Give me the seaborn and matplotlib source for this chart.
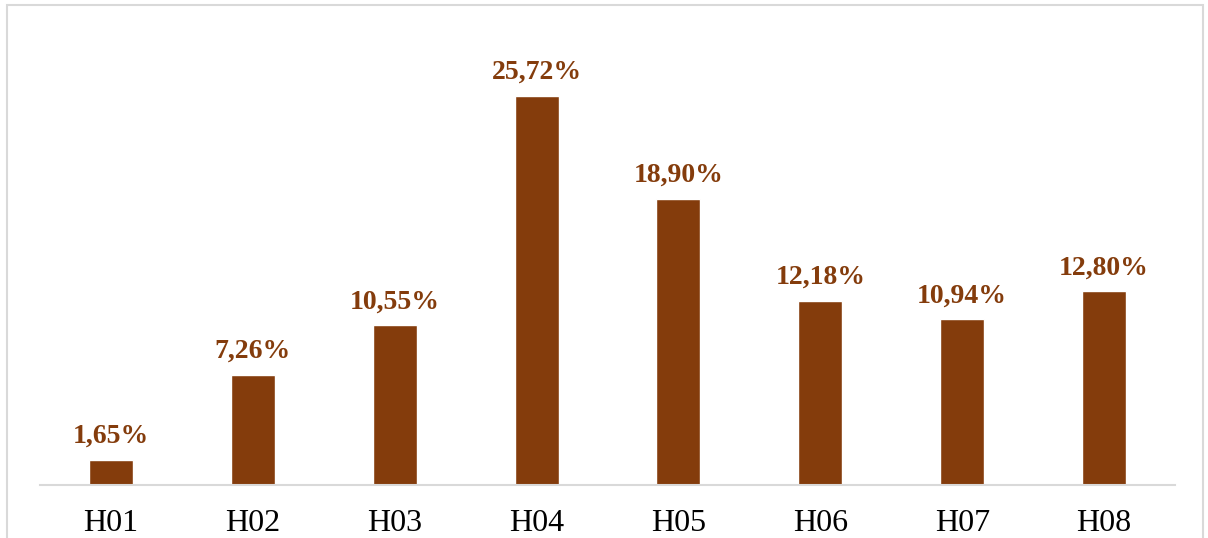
import matplotlib
matplotlib.use("Agg")
import matplotlib.pyplot as plt
import seaborn as sns
import pandas as pd
from matplotlib.patches import Rectangle

categories = ["H01", "H02", "H03", "H04", "H05", "H06", "H07", "H08"]
values = [1.65, 7.26, 10.55, 25.72, 18.90, 12.18, 10.94, 12.80]
labels = ["1,65%", "7,26%", "10,55%", "25,72%", "18,90%", "12,18%", "10,94%", "12,80%"]

bar_color = "#843C0C"

sns.set_theme(style="white")
plt.rcParams["font.family"] = ["Liberation Serif", "DejaVu Serif"]

fig = plt.figure(figsize=(12.08, 5.38), dpi=100)
ax = fig.add_axes([40/1208, 53/538, 1135/1208, 454/538])

df = pd.DataFrame({"cat": categories, "val": values})
sns.barplot(data=df, x="cat", y="val", color=bar_color, saturation=1, width=0.31, ax=ax)

ax.set_xlim(-0.5, 7.5)
ax.set_ylim(0, 30)
ax.set_xlabel("")
ax.set_ylabel("")
ax.set_yticks([])
for s in ["top", "right", "left"]:
    ax.spines[s].set_visible(False)
ax.spines["bottom"].set_color("#d9d9d9")
ax.spines["bottom"].set_linewidth(1.5)
ax.tick_params(axis="x", length=0, pad=17, labelsize=23, colors="black")

for i, (v, t) in enumerate(zip(values, labels)):
    ax.annotate(t, (i, v), xytext=(0, 8), textcoords="offset points",
                ha="center", va="bottom", fontsize=20, fontweight="bold", color=bar_color)

fig.patches.append(Rectangle((7/1208, -0.1), 1196/1208, (538-5)/538 + 0.1,
                             transform=fig.transFigure, fill=False,
                             edgecolor="#d9d9d9", linewidth=1.5))

fig.savefig("out.png", dpi=100)
